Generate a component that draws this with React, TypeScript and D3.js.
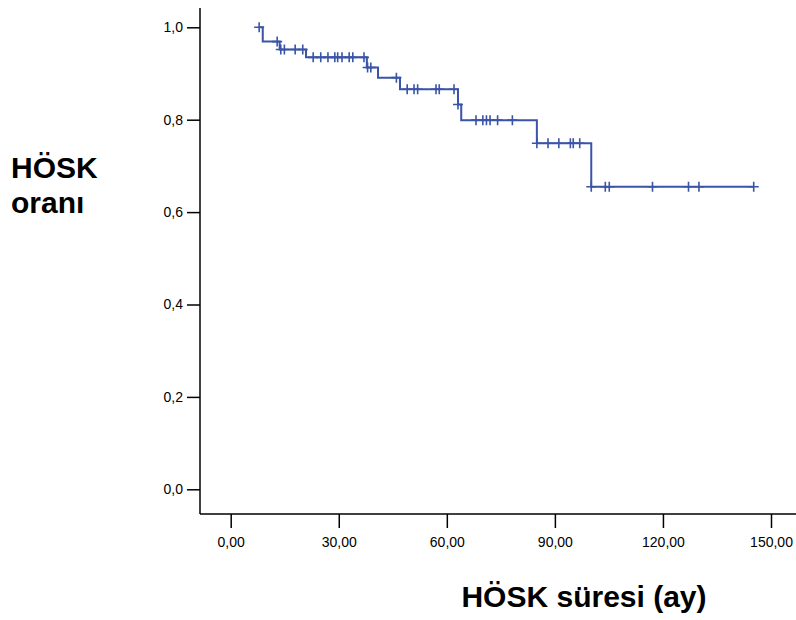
import React, { useEffect, useRef } from 'react';
import * as d3 from 'd3';

// Kaplan-Meier steps (months, survival)
const startTime = 7.9;
const eventTimes = [8.9, 13.6, 20.9, 37.8, 40.9, 47.0, 63.1, 64.0, 85.0, 100.1];
const survivalLevels = [1.0, 0.969, 0.952, 0.935, 0.913, 0.891, 0.866, 0.833, 0.799, 0.749, 0.655];
const censorTimes = [
    7.9, 12.9, 13.9, 14.9, 17.9, 20.0,
    22.9, 25.0, 27.0, 28.9, 29.7, 30.9, 32.9, 33.9, 37.0,
    38.0, 38.9,
    46.0,
    49.0, 50.9, 51.9, 57.0, 57.9, 62.0,
    63.1,
    68.1, 70.0, 71.0, 72.0, 74.1, 78.2,
    85.0, 88.1, 91.1, 94.3, 95.1, 96.9,
    100.1, 104.0, 105.1, 117.1, 127.1, 130.0, 145.2,
];
const xTicks = [0, 30, 60, 90, 120, 150];
const yTicks = [0, 0.2, 0.4, 0.6, 0.8, 1.0];
const xTitle = 'HÖSK süresi (ay)';
const yTitleLines = ['HÖSK', 'oranı'];

const FONT = 'Liberation Sans, Arial, Helvetica, sans-serif';
const LINE_COLOR = '#3a54a6';

const survivalAt = (t: number) => {
    const n = eventTimes.filter((e) => e <= t).length;
    return survivalLevels[n];
};

const SurvivalChart = () => {
    const ref = useRef<SVGSVGElement | null>(null);

    useEffect(() => {
        const width = 796;
        const height = 620;
        const frame = { left: 200, top: 8, bottom: 514, right: 796 };

        const x = d3.scaleLinear().domain([0, 150]).range([230.7, 771]);
        const y = d3.scaleLinear().domain([0, 1]).range([489.3, 27.3]);

        const svg = d3.select(ref.current);
        svg.selectAll('*').remove();
        svg.attr('width', width).attr('height', height);

        // frame lines
        svg.append('line')
            .attr('x1', frame.left).attr('x2', frame.left)
            .attr('y1', frame.top).attr('y2', frame.bottom)
            .attr('stroke', '#000').attr('stroke-width', 1.5);
        svg.append('line')
            .attr('x1', frame.left).attr('x2', frame.right)
            .attr('y1', frame.bottom).attr('y2', frame.bottom)
            .attr('stroke', '#000').attr('stroke-width', 1.5);

        const yAxis = svg.append('g')
            .attr('transform', `translate(${frame.left},0)`)
            .call(d3.axisLeft(y)
                .tickValues(yTicks)
                .tickSize(13)
                .tickPadding(4)
                .tickFormat((d) => d3.format('.1f')(d as number).replace('.', ',')));
        yAxis.select('.domain').remove();

        const xAxis = svg.append('g')
            .attr('transform', `translate(0,${frame.bottom})`)
            .call(d3.axisBottom(x)
                .tickValues(xTicks)
                .tickSize(14)
                .tickPadding(9)
                .tickFormat((d) => d3.format('.2f')(d as number).replace('.', ',')));
        xAxis.select('.domain').remove();

        svg.selectAll('.tick line').attr('stroke', '#000').attr('stroke-width', 1.5);
        svg.selectAll('.tick text')
            .attr('fill', '#000')
            .style('font-family', FONT)
            .style('font-size', '14px');

        // survival step line
        const points: [number, number][] = [[startTime, survivalLevels[0]]];
        eventTimes.forEach((t, i) => points.push([t, survivalLevels[i + 1]]));
        points.push([d3.max(censorTimes) as number, survivalLevels[survivalLevels.length - 1]]);

        const line = d3.line<[number, number]>()
            .x((d) => x(d[0]))
            .y((d) => y(d[1]))
            .curve(d3.curveStepAfter);

        svg.append('path')
            .datum(points)
            .attr('d', line)
            .attr('fill', 'none')
            .attr('stroke', LINE_COLOR)
            .attr('stroke-width', 2);

        // censor marks
        svg.append('g')
            .selectAll('path')
            .data(censorTimes)
            .enter()
            .append('path')
            .attr('d', (t) => {
                const cx = x(t);
                const cy = y(survivalAt(t));
                return `M${cx - 5},${cy}H${cx + 5}M${cx},${cy - 5}V${cy + 5}`;
            })
            .attr('stroke', LINE_COLOR)
            .attr('stroke-width', 1.6)
            .attr('fill', 'none');

        // titles
        svg.append('text')
            .attr('x', 584)
            .attr('y', 607)
            .attr('text-anchor', 'middle')
            .style('font-family', FONT)
            .style('font-size', '30px')
            .style('font-weight', 'bold')
            .text(xTitle);

        svg.append('text')
            .selectAll('tspan')
            .data(yTitleLines)
            .enter()
            .append('tspan')
            .attr('x', 11)
            .attr('y', (d, i) => 178 + i * 35)
            .style('font-family', FONT)
            .style('font-size', '30px')
            .style('font-weight', 'bold')
            .text((d) => d);
    }, []);

    return <svg ref={ref} style={{ position: 'absolute', left: 0, top: 0 }}></svg>;
};

export default function App() {
    return <SurvivalChart />;
}
